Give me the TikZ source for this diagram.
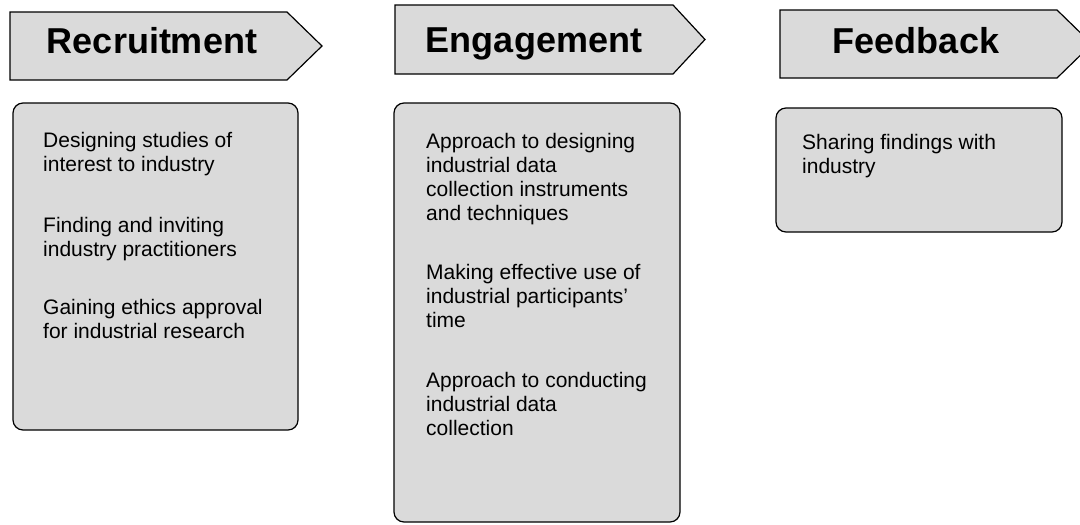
\documentclass[tikz,border=0pt]{standalone}
\usepackage{fontspec}
\setmainfont{Liberation Sans}
\definecolor{boxgray}{gray}{0.855}
\begin{document}
\begin{tikzpicture}[x=1pt,y=-1pt,
  shapeline/.style={draw=black,line width=1.2pt,fill=boxgray,line join=miter},
  roundbox/.style={draw=black,line width=1.2pt,fill=boxgray,rounded corners=10pt},
  headtext/.style={inner sep=0pt,anchor=base,font=\fontsize{36}{40}\selectfont\bfseries},
  bodytext/.style={inner sep=0pt,anchor=base west,align=left,font=\fontsize{21}{24}\selectfont}]
\clip (0,0) rectangle (1080,525);
\useasboundingbox (0,0) rectangle (1080,525);
% heading arrows
\draw[shapeline] (10,12) -- (287,12) -- (322,46) -- (287,80) -- (10,80) -- cycle;
\draw[shapeline] (395,5) -- (673,5) -- (705,39.5) -- (673,74) -- (395,74) -- cycle;
\draw[shapeline] (780,10) -- (1057,10) -- (1092,44) -- (1057,78) -- (780,78) -- cycle;
\node[headtext] (hrec) at (152,53) {Recruitment};
\node[headtext] (heng) at (534,52) {Engagement};
\node[headtext] (hfee) at (916,53) {Feedback};
% boxes
\draw[roundbox] (13,103) rectangle (298,430);
\draw[roundbox] (394,103) rectangle (680,522);
\draw[roundbox] (776,108) rectangle (1062,232);
% text (anchor base = baseline of last line)
\node[bodytext] (trec) at (43,338) {Designing studies of\\interest to industry\\[37pt]Finding and inviting\\industry practitioners\\[34pt]Gaining ethics approval\\for industrial research};
\node[bodytext] (teng) at (426,435) {Approach to designing\\industrial data\\collection instruments\\and techniques\\[35pt]Making effective use of\\industrial participants’\\time\\[36pt]Approach to conducting\\industrial data\\collection};
\node[bodytext] (tfee) at (802,173) {Sharing findings with\\industry};
\end{tikzpicture}
\end{document}
